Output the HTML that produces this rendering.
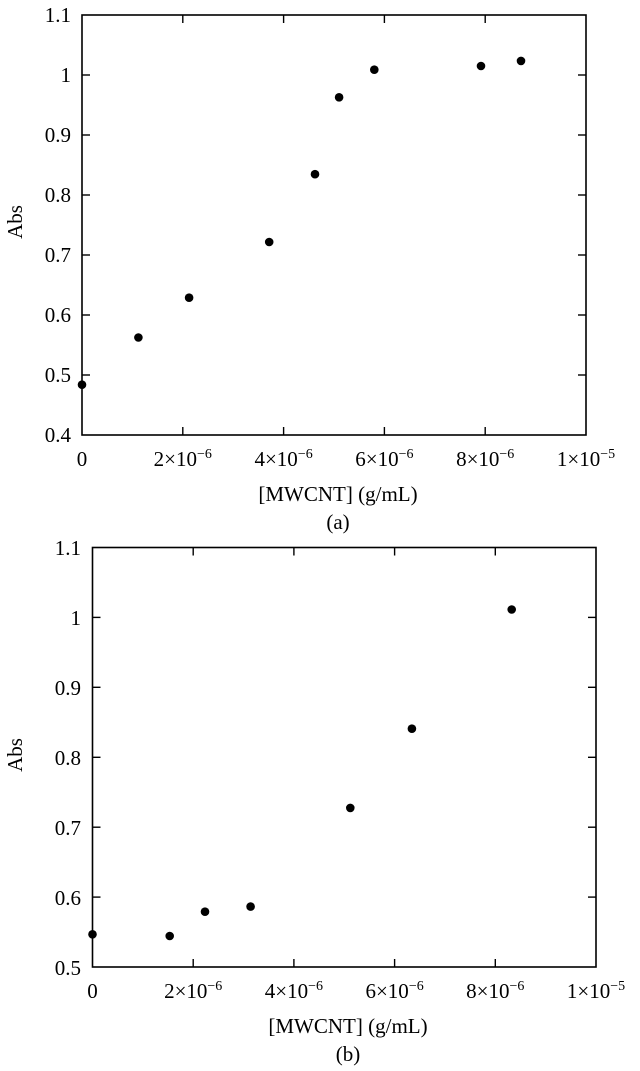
<!DOCTYPE html>
<html><head><meta charset="utf-8"><style>
html,body{margin:0;padding:0;background:#fff;}
svg{display:block;}
text{font-family:"Liberation Serif",serif;fill:#000;}
</style></head><body>
<svg width="640" height="1071" viewBox="0 0 640 1071" xmlns="http://www.w3.org/2000/svg">
<g>
<rect x="82" y="15" width="504" height="420" fill="none" stroke="#000" stroke-width="1.6"/>
<g stroke="#000" stroke-width="1.4">
<line x1="82" y1="75" x2="90" y2="75"/><line x1="82" y1="135" x2="90" y2="135"/><line x1="82" y1="195" x2="90" y2="195"/><line x1="82" y1="255" x2="90" y2="255"/><line x1="82" y1="315" x2="90" y2="315"/><line x1="82" y1="375" x2="90" y2="375"/>
<line x1="586" y1="75" x2="578" y2="75"/><line x1="586" y1="135" x2="578" y2="135"/><line x1="586" y1="195" x2="578" y2="195"/><line x1="586" y1="255" x2="578" y2="255"/><line x1="586" y1="315" x2="578" y2="315"/><line x1="586" y1="375" x2="578" y2="375"/>
<line x1="182.8" y1="435" x2="182.8" y2="427"/><line x1="283.6" y1="435" x2="283.6" y2="427"/><line x1="384.4" y1="435" x2="384.4" y2="427"/><line x1="485.2" y1="435" x2="485.2" y2="427"/>
<line x1="182.8" y1="15" x2="182.8" y2="23"/><line x1="283.6" y1="15" x2="283.6" y2="23"/><line x1="384.4" y1="15" x2="384.4" y2="23"/><line x1="485.2" y1="15" x2="485.2" y2="23"/>
</g>
<g font-size="21" text-anchor="end">
<text x="71" y="22">1.1</text><text x="71" y="82">1</text><text x="71" y="142">0.9</text><text x="71" y="202">0.8</text><text x="71" y="262">0.7</text><text x="71" y="322">0.6</text><text x="71" y="382">0.5</text><text x="71" y="442">0.4</text>
</g>
<g font-size="21" text-anchor="middle">
<text x="82" y="466">0</text>
<text x="182.8" y="466">2×10<tspan font-size="14" dy="-8">−6</tspan></text>
<text x="283.6" y="466">4×10<tspan font-size="14" dy="-8">−6</tspan></text>
<text x="384.4" y="466">6×10<tspan font-size="14" dy="-8">−6</tspan></text>
<text x="485.2" y="466">8×10<tspan font-size="14" dy="-8">−6</tspan></text>
<text x="586" y="466">1×10<tspan font-size="14" dy="-8">−5</tspan></text>
<text x="338" y="501">[MWCNT] (g/mL)</text>
<text x="338" y="529">(a)</text>
</g>
<text font-size="21" text-anchor="middle" transform="translate(22,222) rotate(-90)">Abs</text>
<g fill="#000">
<circle cx="82" cy="384.7" r="4.3"/><circle cx="138.4" cy="337.5" r="4.3"/><circle cx="189.1" cy="297.7" r="4.3"/><circle cx="269.2" cy="242" r="4.3"/><circle cx="315" cy="174.2" r="4.3"/><circle cx="339.1" cy="97.3" r="4.3"/><circle cx="374.3" cy="69.7" r="4.3"/><circle cx="481" cy="66" r="4.3"/><circle cx="521" cy="60.9" r="4.3"/>
</g>
</g>
<g>
<rect x="92.5" y="547.5" width="503.5" height="419.5" fill="none" stroke="#000" stroke-width="1.6"/>
<g stroke="#000" stroke-width="1.4">
<line x1="92.5" y1="617.4" x2="100.5" y2="617.4"/><line x1="92.5" y1="687.3" x2="100.5" y2="687.3"/><line x1="92.5" y1="757.3" x2="100.5" y2="757.3"/><line x1="92.5" y1="827.2" x2="100.5" y2="827.2"/><line x1="92.5" y1="897.1" x2="100.5" y2="897.1"/>
<line x1="596" y1="617.4" x2="588" y2="617.4"/><line x1="596" y1="687.3" x2="588" y2="687.3"/><line x1="596" y1="757.3" x2="588" y2="757.3"/><line x1="596" y1="827.2" x2="588" y2="827.2"/><line x1="596" y1="897.1" x2="588" y2="897.1"/>
<line x1="193.2" y1="967" x2="193.2" y2="959"/><line x1="293.9" y1="967" x2="293.9" y2="959"/><line x1="394.6" y1="967" x2="394.6" y2="959"/><line x1="495.3" y1="967" x2="495.3" y2="959"/>
<line x1="193.2" y1="547.5" x2="193.2" y2="555.5"/><line x1="293.9" y1="547.5" x2="293.9" y2="555.5"/><line x1="394.6" y1="547.5" x2="394.6" y2="555.5"/><line x1="495.3" y1="547.5" x2="495.3" y2="555.5"/>
</g>
<g font-size="21" text-anchor="end">
<text x="81" y="555">1.1</text><text x="81" y="625">1</text><text x="81" y="695">0.9</text><text x="81" y="765">0.8</text><text x="81" y="835">0.7</text><text x="81" y="905">0.6</text><text x="81" y="975">0.5</text>
</g>
<g font-size="21" text-anchor="middle">
<text x="92.5" y="998">0</text>
<text x="193.2" y="998">2×10<tspan font-size="14" dy="-8">−6</tspan></text>
<text x="293.9" y="998">4×10<tspan font-size="14" dy="-8">−6</tspan></text>
<text x="394.6" y="998">6×10<tspan font-size="14" dy="-8">−6</tspan></text>
<text x="495.3" y="998">8×10<tspan font-size="14" dy="-8">−6</tspan></text>
<text x="596" y="998">1×10<tspan font-size="14" dy="-8">−5</tspan></text>
<text x="348" y="1033">[MWCNT] (g/mL)</text>
<text x="348" y="1061">(b)</text>
</g>
<text font-size="21" text-anchor="middle" transform="translate(22,755) rotate(-90)">Abs</text>
<g fill="#000">
<circle cx="92.5" cy="934.3" r="4.3"/><circle cx="169.7" cy="936" r="4.3"/><circle cx="205" cy="911.7" r="4.3"/><circle cx="250.6" cy="906.6" r="4.3"/><circle cx="350.3" cy="807.9" r="4.3"/><circle cx="411.9" cy="728.7" r="4.3"/><circle cx="511.7" cy="609.5" r="4.3"/>
</g>
</g>
</svg>
</body></html>
